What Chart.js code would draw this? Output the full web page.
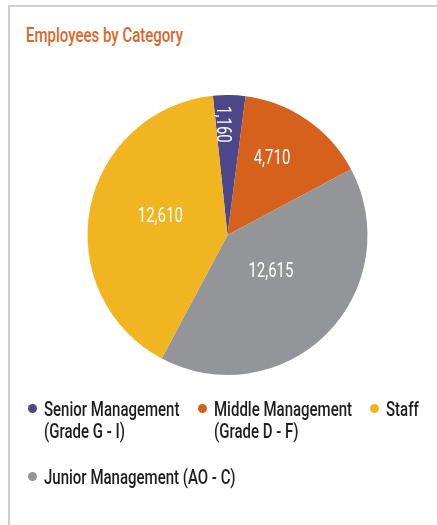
<!DOCTYPE html>
<html>
<head>
<meta charset="utf-8">
<script src="https://cdn.jsdelivr.net/npm/chart.js@4"></script>
<style>
  html, body { margin: 0; padding: 0; background: #ffffff; }
  body { width: 437px; height: 525px; position: relative; overflow: hidden;
         font-family: "Roboto", sans-serif; }
  .card { position: absolute; left: 8px; top: 5px; width: 460px; height: 540px;
          border-left: 2px solid #cfcfcf; border-top: 2px solid #cfcfcf; box-sizing: border-box; }
  .narrow { display: inline-block; transform: scaleX(0.75); transform-origin: 0 0; white-space: nowrap; }
  .title { position: absolute; left: 26px; top: 24px; font-size: 20px; line-height: 22px;
           font-weight: 500; color: #d9672b; white-space: nowrap; }
  #chart { position: absolute; left: 0; top: 0; }
  .legend { position: absolute; left: 27.5px; top: 399px; width: 410px;
            display: grid; grid-template-columns: 170px 172px auto; row-gap: 25.4px; }
  .item { display: flex; align-items: flex-start; font-size: 20px; line-height: 21.5px;
          font-weight: 500; color: #1e1c1d; }
  .item.wide { grid-column: 1 / span 3; }
  .dot { width: 9px; height: 9px; border-radius: 50%; margin: 5px 7.5px 0 0; flex: none; }
</style>
</head>
<body>
<div class="card"></div>
<div class="title"><span class="narrow">Employees by Category</span></div>
<canvas id="chart" width="437" height="525"></canvas>
<div class="legend" id="legend"></div>
<script>
// Employee headcount per category, in the order the slices run clockwise from the top
const categories = [
  ['Senior Management', '(Grade G - I)'],
  ['Middle Management', '(Grade D - F)'],
  ['Junior Management (AO - C)'],
  ['Staff']
];
const employees = [1160, 4710, 12615, 12610];
const sliceColors = ['#4b4789', '#d5611c', '#939598', '#f0b520'];

// Legend lists the categories in this order
const legendOrder = [0, 1, 3, 2];

// Where each value label sits inside its slice:
// t = fraction of the slice's sweep, r = fraction of the radius, rot = text rotation
const labelPlacement = [
  { t: 0.31, r: 0.79, rot: Math.PI / 2 },
  { t: 0.41, r: 0.64, rot: 0 },
  { t: 0.46, r: 0.40, rot: 0 },
  { t: 0.536, r: 0.50, rot: 0 }
];

const labelFont = '20px "Roboto", sans-serif';
const textSquash = 0.75;

const sliceLabels = {
  id: 'sliceLabels',
  afterDatasetsDraw(chart) {
    const ctx = chart.ctx;
    const meta = chart.getDatasetMeta(0);
    meta.data.forEach((arc, i) => {
      const p = arc.getProps(['x', 'y', 'startAngle', 'endAngle', 'outerRadius'], true);
      const place = labelPlacement[i];
      const a = p.startAngle + place.t * (p.endAngle - p.startAngle);
      const rr = place.r * p.outerRadius;
      const x = p.x + Math.cos(a) * rr;
      const y = p.y + Math.sin(a) * rr;
      ctx.save();
      ctx.translate(x, y);
      ctx.rotate(place.rot);
      ctx.scale(textSquash, 1);
      ctx.font = labelFont;
      ctx.fillStyle = '#ffffff';
      ctx.textAlign = 'center';
      ctx.textBaseline = 'alphabetic';
      ctx.fillText(employees[i].toLocaleString('en-US'), 0, 7);
      ctx.restore();
    });
  }
};

new Chart(document.getElementById('chart'), {
  type: 'pie',
  data: {
    labels: categories.map(l => l.join(' ')),
    datasets: [{
      data: employees,
      backgroundColor: sliceColors,
      borderWidth: 0
    }]
  },
  options: {
    responsive: false,
    animation: false,
    rotation: -6,
    layout: { padding: { left: 87, right: 69, top: 95, bottom: 150 } },
    plugins: {
      legend: { display: false },
      tooltip: { enabled: false }
    }
  },
  plugins: [sliceLabels]
});

// HTML legend built from the same categories and colours
const legend = document.getElementById('legend');
legendOrder.forEach(i => {
  const item = document.createElement('div');
  item.className = 'item' + (i === 2 ? ' wide' : '');
  const dot = document.createElement('span');
  dot.className = 'dot';
  dot.style.background = sliceColors[i];
  const text = document.createElement('span');
  text.className = 'narrow';
  categories[i].forEach((line, k) => {
    if (k) text.appendChild(document.createElement('br'));
    text.appendChild(document.createTextNode(line));
  });
  item.appendChild(dot);
  item.appendChild(text);
  legend.appendChild(item);
});
</script>
</body>
</html>
